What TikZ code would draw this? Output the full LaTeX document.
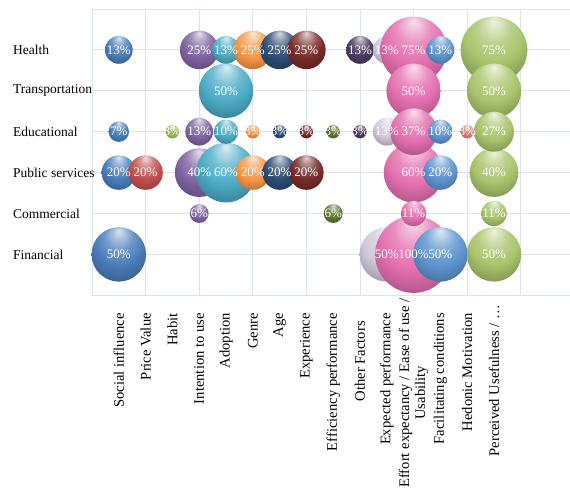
\documentclass[tikz,border=0pt]{standalone}
\usepackage{fontspec}
\setmainfont{Liberation Serif}
\definecolor{c1}{HTML}{4A7DBA}
\definecolor{c2}{HTML}{C0504D}
\definecolor{c3}{HTML}{9BBB59}
\definecolor{c4}{HTML}{8064A2}
\definecolor{c5}{HTML}{4BACC6}
\definecolor{c6}{HTML}{F79646}
\definecolor{c7}{HTML}{2C4D75}
\definecolor{c8}{HTML}{772C2A}
\definecolor{c9}{HTML}{5F7530}
\definecolor{c10}{HTML}{4D3B62}
\definecolor{c11}{HTML}{CFC8DC}
\definecolor{c12}{HTML}{E570B0}
\definecolor{c13}{HTML}{5E95CF}
\definecolor{c14}{HTML}{D9807E}
\definecolor{c15}{HTML}{A9C46C}
\definecolor{gridc}{HTML}{DCE3EE}
\colorlet{bubcol}{c1}
\pgfdeclareradialshading[bubcol]{bubshade}{\pgfqpoint{0bp}{22bp}}{%
 color(0bp)=(bubcol!20!white); color(5bp)=(bubcol!45!white);
 color(13bp)=(bubcol!80!white); color(22bp)=(bubcol);
 color(32bp)=(bubcol!80!black); color(41bp)=(bubcol!58!black); color(50bp)=(bubcol!42!black)}
\tikzset{
 bub/.style={circle, inner sep=0pt, shading=bubshade},
 pct/.style={text=white, font=\fontsize{13}{13}\selectfont, inner sep=0pt},
 rowlab/.style={anchor=west, font=\fontsize{13.5}{16}\selectfont, inner sep=0pt},
 collab/.style={rotate=90, anchor=east, font=\fontsize{14.6}{16}\selectfont, inner sep=0pt, align=center},
 gridline/.style={draw=gridc, line width=0.8pt}
}
\begin{document}
\begin{tikzpicture}[x=1pt, y=-1pt]
\useasboundingbox (0,0) rectangle (570,494);
\fill[white] (0,0) rectangle (570,494);
% grid
\foreach \j in {0,...,8} \draw[gridline] ({92+53.6*\j},9) -- ({92+53.6*\j},295.3);
\foreach \i in {0,...,7} \draw[gridline] (92,{9+40.9*\i}) -- (570,{9+40.9*\i});
% row labels
\foreach \r/\t in {1/Health,2/Transportation,3/Educational,4/Public services,5/Commercial,6/Financial}
  \node[rowlab] (row\r) at (13,{9+40.9*\r}) {\t};
% column labels
\foreach \k/\t/\yy in {1/Social influence/313,2/Price Value/313,3/Habit/313,4/Intention to use/313,
  5/Adoption/313,6/Genre/313,7/Age/313,8/Experience/313,9/Efficiency performance/313,
  10/Other Factors/321,11/Expected performance/313,12/{Effort expectancy / Ease of use /\\Usability}/298,
  13/Facilitating conditions/313,14/Hedonic Motivation/313,15/{Perceived Usefulness / \ldots}/305}
  \node[collab] (col\k) at ({92+26.8*\k},\yy) {\t};
% bubbles
\foreach \k/\r/\v in {1/6/50,1/4/20,1/1/13,1/3/7,
  2/4/20,
  3/3/3,
  4/4/40,4/1/25,4/3/13,4/5/6,
  5/4/60,5/2/50,5/1/13,5/3/10,
  6/1/25,6/4/20,6/3/3,
  7/1/25,7/4/20,7/3/3,
  8/1/25,8/4/20,8/3/3,
  9/5/6,9/3/3,
  10/1/13,10/3/3,
  11/6/50,11/1/13,11/3/13,
  12/6/100,12/1/75,12/4/60,12/2/50,12/3/37,12/5/11,
  13/6/50,13/4/20,13/1/13,13/3/10,
  14/3/3,
  15/1/75,15/2/50,15/6/50,15/4/40,15/3/27,15/5/11}
{
  \colorlet{bubcol}{c\k}
  \node[bub, minimum size={7.7*sqrt(\v)}] (b\k-\r) at ({92+26.8*\k},{9+40.9*\r}) {};
}
% labels
\foreach \k/\r/\v in {1/6/50,1/4/20,1/1/13,1/3/7,
  2/4/20,
  3/3/3,
  4/4/40,4/1/25,4/3/13,4/5/6,
  5/4/60,5/2/50,5/1/13,5/3/10,
  6/1/25,6/4/20,6/3/3,
  7/1/25,7/4/20,7/3/3,
  8/1/25,8/4/20,8/3/3,
  9/5/6,9/3/3,
  10/1/13,10/3/3,
  11/6/50,11/1/13,11/3/13,
  12/6/100,12/1/75,12/4/60,12/2/50,12/3/37,12/5/11,
  13/6/50,13/4/20,13/1/13,13/3/10,
  14/3/3,
  15/1/75,15/2/50,15/6/50,15/4/40,15/3/27,15/5/11}
  \node[pct] (l\k-\r) at (b\k-\r.center) {\v\%};
\end{tikzpicture}
\end{document}
